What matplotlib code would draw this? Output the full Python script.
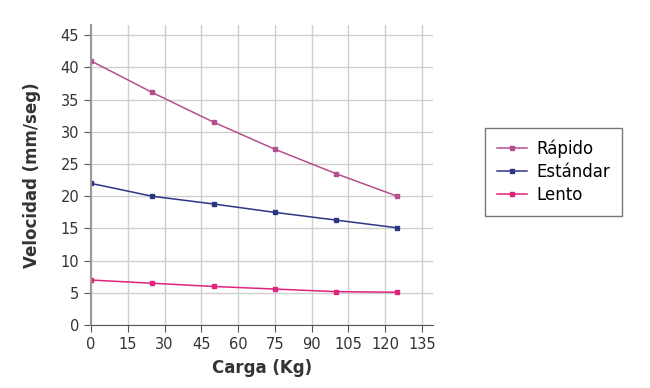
import matplotlib
matplotlib.use('Agg')
import matplotlib.pyplot as plt

carga = [0, 25, 50, 75, 100, 125]
rapido = [41, 36.1, 31.5, 27.3, 23.5, 20]
estandar = [22, 20, 18.8, 17.5, 16.3, 15.1]
lento = [7, 6.5, 6, 5.6, 5.2, 5.1]

x_ticks = [0, 15, 30, 45, 60, 75, 90, 105, 120, 135]
y_ticks = [0, 5, 10, 15, 20, 25, 30, 35, 40, 45]

fig = plt.figure(figsize=(6.5, 3.88), dpi=100)
ax = fig.add_axes([0.14, 0.162, 0.526, 0.774])

ax.plot(carga, rapido, color='#b5508e', lw=1.1, marker='s', ms=3, label='Rápido')
ax.plot(carga, estandar, color='#2d3585', lw=1.1, marker='s', ms=3, label='Estándar')
ax.plot(carga, lento, color='#e0237d', lw=1.1, marker='s', ms=3, label='Lento')

ax.set_xlim(0, 139.5)
ax.set_ylim(0, 46.6)
ax.set_xticks(x_ticks)
ax.set_yticks(y_ticks)
ax.grid(True, color='#cfcfcf', lw=1)
ax.set_axisbelow(True)
for s in ['top', 'right']:
    ax.spines[s].set_visible(False)
ax.spines['left'].set_color('#999999')
ax.spines['left'].set_linewidth(1.5)
ax.spines['bottom'].set_color('#555555')
ax.tick_params(colors='#555555', labelcolor='#333333', labelsize=10.5, length=5)

ax.set_xlabel('Carga (Kg)', fontsize=12, fontweight='bold', color='#333333', labelpad=5)
ax.set_ylabel('Velocidad (mm/seg)', fontsize=12, fontweight='bold', color='#333333', labelpad=14)

leg = ax.legend(loc='center left', bbox_to_anchor=(1.128, 0.51), fontsize=12,
                frameon=True, fancybox=False, edgecolor='#555555',
                handlelength=1.8, borderpad=0.7, labelspacing=0.3, handletextpad=0.6)
leg.get_frame().set_linewidth(1)

fig.savefig('out.png', dpi=100)
